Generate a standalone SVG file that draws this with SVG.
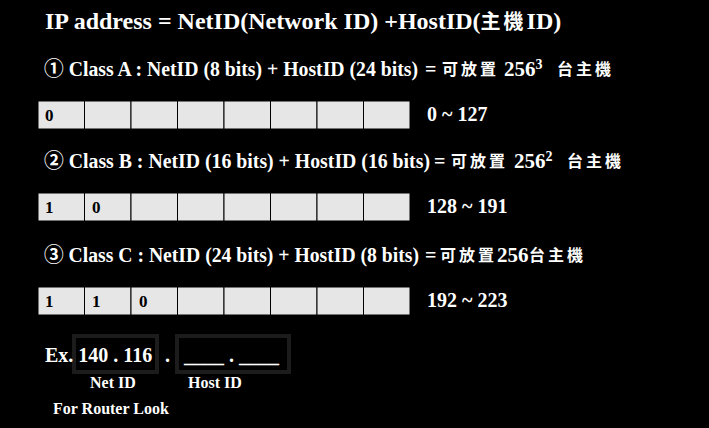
<svg xmlns="http://www.w3.org/2000/svg" width="709" height="428" viewBox="0 0 709 428">
<style>
.t{font-family:"Liberation Serif","Noto Sans CJK TC",serif;font-weight:bold;fill:#fff}
.cj{font-family:"Noto Sans CJK TC",serif;font-weight:bold;fill:#fff;letter-spacing:3px}
.cell{fill:#e6e6e6;stroke:#000;stroke-width:1}
.d{font-family:"Liberation Serif",serif;font-weight:bold;font-size:17px;fill:#000}
.rg{font-family:"Liberation Serif",serif;font-weight:bold;font-size:20px;fill:#fff}
.box{fill:none;stroke:#1c1c1c;stroke-width:4}
</style>
<rect width="709" height="428" fill="#000"/>
<g id="title">
<text class="t" x="45" y="29" font-size="24">IP address = NetID(Network ID) +HostID(<tspan class="cj" font-size="20" letter-spacing="1">主機</tspan>ID)</text>
</g>
<g id="classA">
<text class="t" x="44" y="76" font-size="20" textLength="374" lengthAdjust="spacingAndGlyphs">① Class A : NetID (8 bits) + HostID (24 bits)</text>
<text class="t" x="425" y="76" font-size="20">=</text>
<text class="cj" x="442" y="75" font-size="16">可放置</text>
<text class="t" x="504" y="76" font-size="21">256<tspan font-size="14" dy="-7">3</tspan></text>
<text class="cj" x="557" y="75" font-size="16">台主機</text>
</g>
<g id="rowA">
<rect class="cell" x="38" y="101" width="46.5" height="28"/>
<rect class="cell" x="84.5" y="101" width="46.5" height="28"/>
<rect class="cell" x="131" y="101" width="46.5" height="28"/>
<rect class="cell" x="177.5" y="101" width="46.5" height="28"/>
<rect class="cell" x="224" y="101" width="46.5" height="28"/>
<rect class="cell" x="270.5" y="101" width="46.5" height="28"/>
<rect class="cell" x="317" y="101" width="46.5" height="28"/>
<rect class="cell" x="363.5" y="101" width="46.5" height="28"/>
<text class="d" x="45" y="121">0</text>
<text class="rg" x="427" y="121">0 ~ 127</text>
</g>
<g id="classB">
<text class="t" x="44" y="168" font-size="20" textLength="386" lengthAdjust="spacingAndGlyphs">② Class B : NetID (16 bits) + HostID (16 bits)</text>
<text class="t" x="434" y="168" font-size="20">=</text>
<text class="cj" x="451" y="167" font-size="16">可放置</text>
<text class="t" x="514" y="168" font-size="21">256<tspan font-size="14" dy="-7">2</tspan></text>
<text class="cj" x="567" y="167" font-size="16">台主機</text>
</g>
<g id="rowB">
<rect class="cell" x="38" y="193" width="46.5" height="28"/>
<rect class="cell" x="84.5" y="193" width="46.5" height="28"/>
<rect class="cell" x="131" y="193" width="46.5" height="28"/>
<rect class="cell" x="177.5" y="193" width="46.5" height="28"/>
<rect class="cell" x="224" y="193" width="46.5" height="28"/>
<rect class="cell" x="270.5" y="193" width="46.5" height="28"/>
<rect class="cell" x="317" y="193" width="46.5" height="28"/>
<rect class="cell" x="363.5" y="193" width="46.5" height="28"/>
<text class="d" x="45" y="213">1</text>
<text class="d" x="92" y="213">0</text>
<text class="rg" x="427" y="213">128 ~ 191</text>
</g>
<g id="classC">
<text class="t" x="44" y="262" font-size="20" textLength="375" lengthAdjust="spacingAndGlyphs">③ Class C : NetID (24 bits) + HostID (8 bits)</text>
<text class="t" x="425" y="262" font-size="20">=</text>
<text class="cj" x="440" y="261" font-size="16" letter-spacing="2">可放置</text>
<text class="t" x="497" y="262" font-size="21">256</text>
<text class="cj" x="529" y="261" font-size="16" letter-spacing="6">台主機</text>
</g>
<g id="rowC">
<rect class="cell" x="38" y="287" width="46.5" height="28"/>
<rect class="cell" x="84.5" y="287" width="46.5" height="28"/>
<rect class="cell" x="131" y="287" width="46.5" height="28"/>
<rect class="cell" x="177.5" y="287" width="46.5" height="28"/>
<rect class="cell" x="224" y="287" width="46.5" height="28"/>
<rect class="cell" x="270.5" y="287" width="46.5" height="28"/>
<rect class="cell" x="317" y="287" width="46.5" height="28"/>
<rect class="cell" x="363.5" y="287" width="46.5" height="28"/>
<text class="d" x="45" y="307">1</text>
<text class="d" x="92" y="307">1</text>
<text class="d" x="139" y="307">0</text>
<text class="rg" x="427" y="307">192 ~ 223</text>
</g>
<g id="example">
<rect class="box" x="74" y="336" width="83" height="36"/>
<rect class="box" x="177" y="336" width="112" height="36"/>
<text class="t" x="45" y="362" font-size="20">Ex. 140 . 116</text>
<text class="t" x="165" y="362" font-size="20">.</text>
<text class="t" x="184" y="362" font-size="20">____ . ____</text>
<text class="t" x="90" y="388" font-size="16">Net ID</text>
<text class="t" x="188" y="388" font-size="16">Host ID</text>
<text class="t" x="53" y="414" font-size="16">For Router Look</text>
</g>
</svg>
